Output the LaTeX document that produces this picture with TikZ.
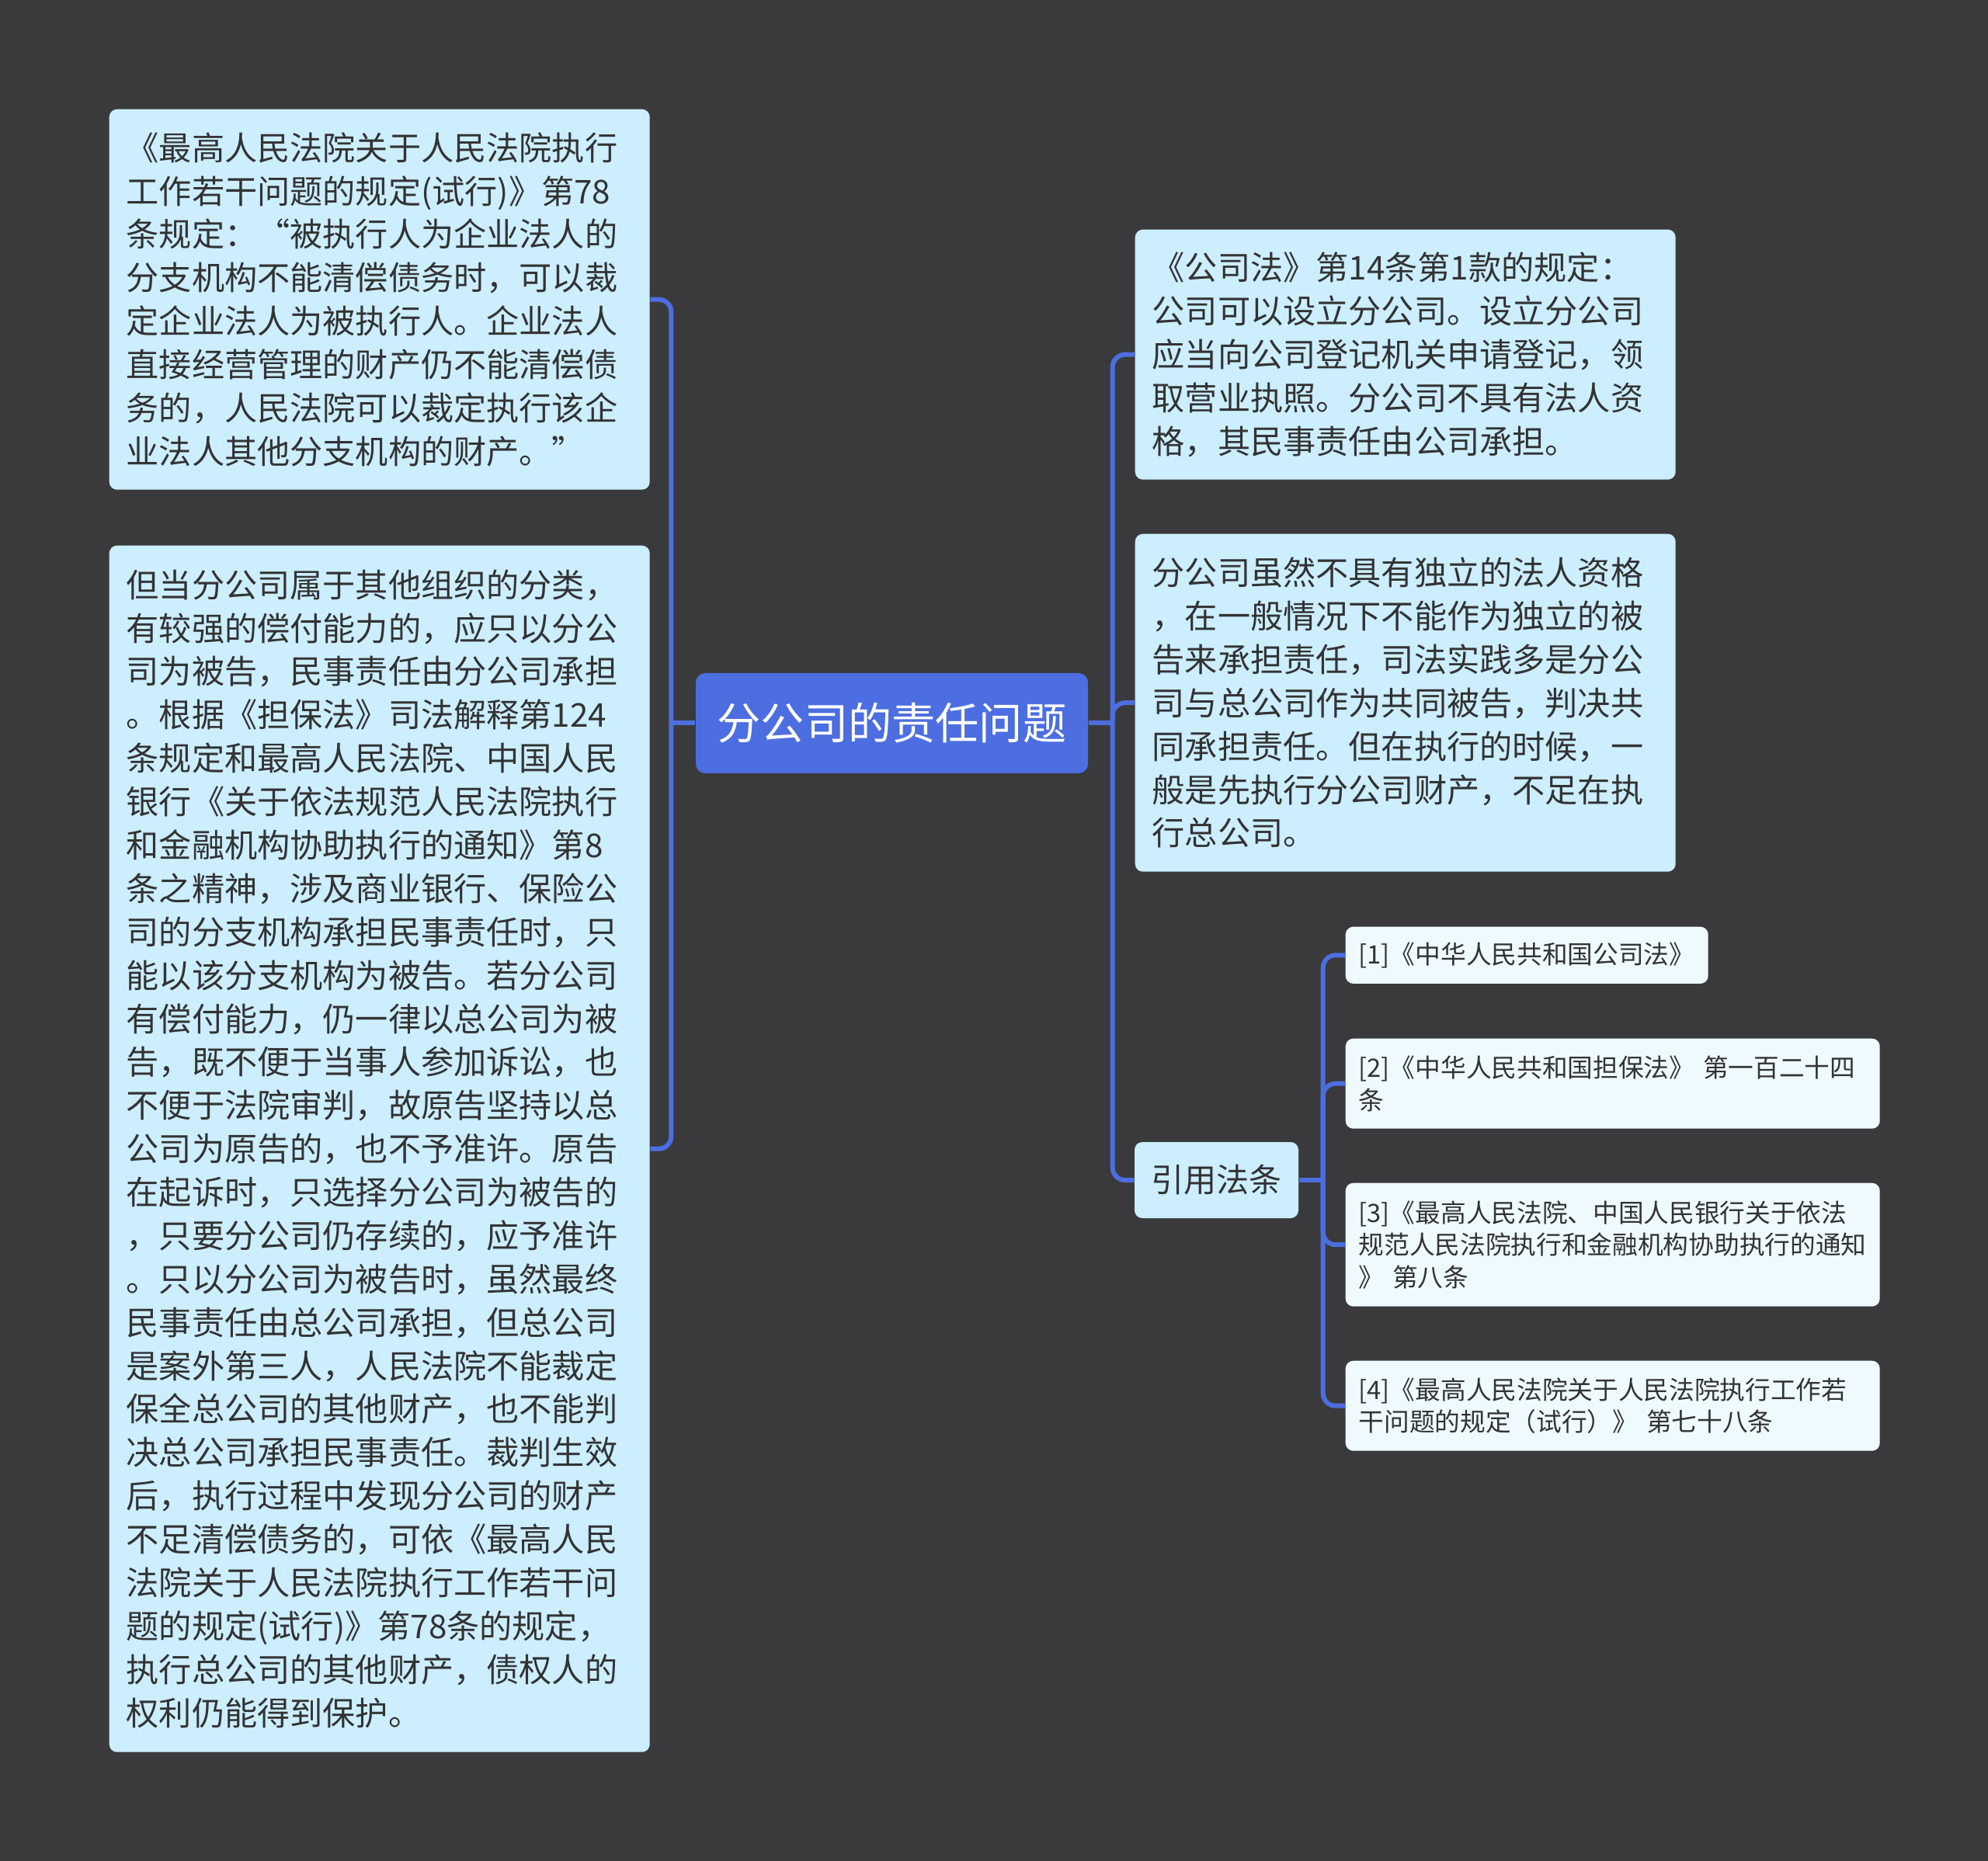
\documentclass[tikz,border=0pt]{standalone}
\usepackage{fontspec}
\setmainfont{Noto Sans CJK SC}
\definecolor{mapbg}{HTML}{3A3A3C}
\definecolor{notefill}{HTML}{CCEEFF}
\definecolor{reffill}{HTML}{EFFAFE}
\definecolor{mapblue}{HTML}{4C6EE0}
\definecolor{mapink}{HTML}{333333}

\begin{document}
\begin{tikzpicture}[
  box/.style={rounded corners=0.1cm, align=left, anchor=north west,
    text=mapink, inner xsep=0.22cm, inner ysep=0.2cm},
  note/.style={box, fill=notefill, text width=6.52cm,
    font=\fontsize{12pt}{15.9pt}\selectfont},
  refbox/.style={box, fill=reffill, text width=6.54cm, inner xsep=0.17cm,
    font=\fontsize{9.3pt}{11.8pt}\selectfont},
  root/.style={rounded corners=0.12cm, fill=mapblue, text=white,
    minimum width=5.05cm, minimum height=1.29cm,
    font=\fontsize{16pt}{19pt}\selectfont},
  cite/.style={rounded corners=0.1cm, fill=notefill, text=mapink,
    minimum width=2.11cm, minimum height=0.98cm,
    font=\fontsize{12pt}{15.9pt}\selectfont},
  link/.style={draw=mapblue, line width=0.06cm, rounded corners=0.16cm},
]

% ---- canvas ---------------------------------------------------------------
\fill[mapbg] (0,0) rectangle (25.60,-23.97);

% ---- centre topic -----------------------------------------------------------
\node[root] (topic) at (11.485,-9.315) {分公司的责任问题};

% ---- left side --------------------------------------------------------------
\node[note, minimum height=4.90cm] (law78) at (1.40,-1.40) {《最高人民法院关于人民法院执行\\
工作若干问题的规定(试行)》第78\\
条规定：“被执行人为企业法人的\\
分支机构不能清偿债务时，可以裁\\
定企业法人为被执行人。企业法人\\
直接经营管理的财产仍不能清偿债\\
务的，人民法院可以裁定执行该企\\
业法人其他分支机构的财产。”};
\node[note, minimum height=15.54cm] (defend) at (1.40,-7.02) {但当分公司属于其他组织的分类，\\
有较强的偿付能力的，应只以分公\\
司为被告，民事责任由分公司承担\\
。根据《担保法》司法解释第124\\
条规定和最高人民法院、中国人民\\
银行《关于依法规范人民法院执行\\
和金融机构协助执行的通知》第8\\
条之精神，涉及商业银行、保险公\\
司的分支机构承担民事责任时，只\\
能以该分支机构为被告。若分公司\\
有偿付能力，仍一律以总公司为被\\
告，既不便于当事人参加诉讼，也\\
不便于法院审判，故原告坚持以总\\
公司为原告的，也不予准许。原告\\
在起诉时，只选择分公司为被告的\\
，只要分公司仍存续的，应予准许\\
。只以分公司为被告时，虽然最终\\
民事责任由总公司承担，但总公司\\
是案外第三人，人民法院不能裁定\\
保全总公司的其他财产，也不能判\\
决总公司承担民事责任。裁判生效\\
后，执行过程中发现分公司的财产\\
不足清偿债务的，可依《最高人民\\
法院关于人民法院执行工作若干问\\
题的规定(试行)》第78条的规定，\\
执行总公司的其他财产，债权人的\\
权利仍能得到保护。};

% ---- right side -------------------------------------------------------------
\node[note, minimum height=3.22cm] (art14) at (14.61,-2.95) {《公司法》第14条第1款的规定：\\
公司可以设立分公司。设立分公司\\
应当向公司登记机关申请登记，领\\
取营业执照。分公司不具有法人资\\
格，其民事责任由公司承担。};
\node[note, minimum height=4.35cm] (joint) at (14.61,-6.87) {分公司虽然不具有独立的法人资格\\
，在一般情况下不能作为独立的被\\
告来承担责任，司法实践多是分公\\
司与总公司作为共同被告，判决共\\
同承担责任。但在执行的时候，一\\
般是先执行分公司财产，不足在执\\
行总公司。};
\node[cite] (cites) at (15.665,-15.20) {引用法条};

% ---- cited articles ---------------------------------------------------------
\node[refbox, text width=4.33cm, minimum height=0.72cm] (ref1) at (17.32,-11.93)
  {[1]《中华人民共和国公司法》};
\node[refbox, minimum height=1.16cm] (ref2) at (17.32,-13.37)
  {[2]《中华人民共和国担保法》 第一百二十四\\条};
\node[refbox, minimum height=1.59cm] (ref3) at (17.32,-15.23)
  {[3]《最高人民法院、中国人民银行关于依法\\规范人民法院执行和金融机构协助执行的通知\\》 第八条};
\node[refbox, minimum height=1.16cm] (ref4) at (17.32,-17.52)
  {[4]《最高人民法院关于人民法院执行工作若\\干问题的规定（试行）》 第七十八条};

% ---- connectors -------------------------------------------------------------
\draw[link] (topic.west) -- ++(-0.31,0) coordinate (lt);
\draw[link] (topic.east) -- ++(0.31,0) coordinate (rt);
\draw[link] (cites.east) -- ++(0.31,0) coordinate (ct);
\foreach \b in {law78, defend}
  \draw[link] (lt) |- (\b.east);
\foreach \b in {art14, joint, cites}
  \draw[link] (rt) |- (\b.west);
\foreach \b in {ref1, ref2, ref3, ref4}
  \draw[link] (ct) |- (\b.west);

\end{tikzpicture}
\end{document}
